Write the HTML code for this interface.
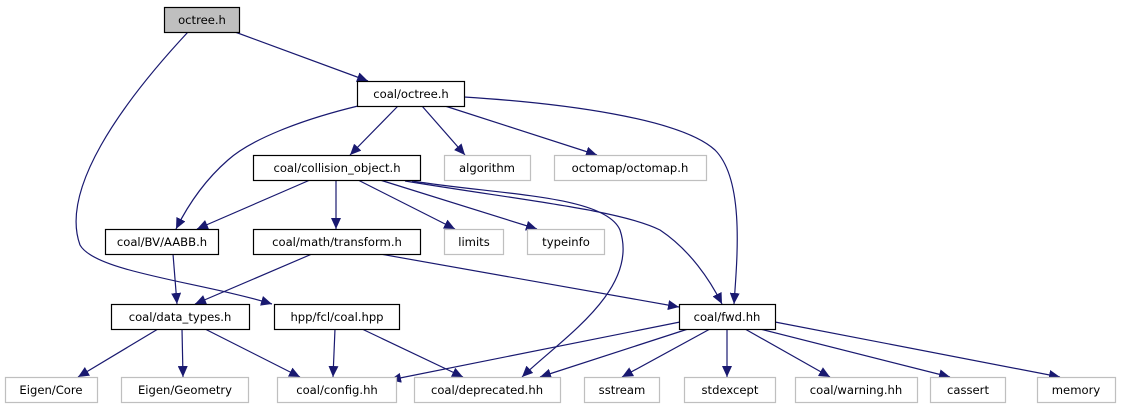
<!DOCTYPE html>
<html><head><meta charset="utf-8"><style>
body{margin:0;background:#fff}
text{font-family:"DejaVu Sans","Liberation Sans",sans-serif;font-size:11.6px;fill:#000}
</style></head><body>
<svg width="1121" height="411" viewBox="0 0 1121 411" xmlns="http://www.w3.org/2000/svg">
<defs><marker id="a" markerUnits="userSpaceOnUse" markerWidth="12" markerHeight="10" refX="11" refY="5" orient="auto"><path d="M0,0 L11,5 L0,10 Z" fill="#191970"/></marker></defs>
<g fill="none" stroke="#191970" stroke-width="1.2" marker-end="url(#a)">
<path d="M235,32 L368,81"/>
<path d="M188,32 C120,105 60,190 80,245 C95,272 200,282 272,304"/>
<path d="M398,106 L350,155"/>
<path d="M422,106 L465,155"/>
<path d="M445,106 L597,155"/>
<path d="M358,106 C300,120 250,140 228,160 C205,180 188,205 176,229"/>
<path d="M464,97 C560,103 680,118 715,150 C745,180 737,260 734,304"/>
<path d="M310,180 L197,229"/>
<path d="M336,180 L336,229"/>
<path d="M358,180 L455,229"/>
<path d="M380,180 L537,229"/>
<path d="M405,181 C520,200 620,210 660,230 C690,250 710,280 722,304"/>
<path d="M412,181 C500,195 605,195 620,230 C640,290 560,340 522,377"/>
<path d="M380,254 L679,307"/>
<path d="M312,254 L195,304"/>
<path d="M173,254 L177,304"/>
<path d="M158,329 L78,377"/>
<path d="M182,329 L183,377"/>
<path d="M205,329 L300,377"/>
<path d="M335,329 L333,377"/>
<path d="M362,329 L463,377"/>
<path d="M680,322 L390,380"/>
<path d="M688,329 L540,377"/>
<path d="M710,329 L622,377"/>
<path d="M727,329 L727,377"/>
<path d="M745,329 L830,377"/>
<path d="M760,329 L950,377"/>
<path d="M775,322 L1060,377"/>
</g>
<g stroke-width="1.2">
<rect x="164.5" y="7.5" width="75" height="25" fill="#bfbfbf" stroke="#000"/>
<rect x="357.5" y="81.5" width="107" height="25" fill="#fff" stroke="#000"/>
<rect x="253.5" y="155.5" width="167" height="25" fill="#fff" stroke="#000"/>
<rect x="444.5" y="155.5" width="86" height="25" fill="#fff" stroke="#bfbfbf"/>
<rect x="554.5" y="155.5" width="152" height="25" fill="#fff" stroke="#bfbfbf"/>
<rect x="105.5" y="229.5" width="113" height="25" fill="#fff" stroke="#000"/>
<rect x="253.5" y="229.5" width="167" height="25" fill="#fff" stroke="#000"/>
<rect x="444.5" y="229.5" width="59" height="25" fill="#fff" stroke="#bfbfbf"/>
<rect x="527.5" y="229.5" width="77" height="25" fill="#fff" stroke="#bfbfbf"/>
<rect x="111.5" y="304.5" width="138" height="25" fill="#fff" stroke="#000"/>
<rect x="274.5" y="304.5" width="125" height="25" fill="#fff" stroke="#000"/>
<rect x="679.5" y="304.5" width="96" height="25" fill="#fff" stroke="#000"/>
<rect x="5.5" y="377.5" width="92" height="25" fill="#fff" stroke="#bfbfbf"/>
<rect x="121.5" y="377.5" width="127" height="25" fill="#fff" stroke="#bfbfbf"/>
<rect x="277.5" y="377.5" width="119" height="25" fill="#fff" stroke="#bfbfbf"/>
<rect x="414.5" y="377.5" width="146" height="25" fill="#fff" stroke="#bfbfbf"/>
<rect x="584.5" y="377.5" width="75" height="25" fill="#fff" stroke="#bfbfbf"/>
<rect x="684.5" y="377.5" width="91" height="25" fill="#fff" stroke="#bfbfbf"/>
<rect x="795.5" y="377.5" width="122" height="25" fill="#fff" stroke="#bfbfbf"/>
<rect x="930.5" y="377.5" width="75" height="25" fill="#fff" stroke="#bfbfbf"/>
<rect x="1037.5" y="377.5" width="78" height="25" fill="#fff" stroke="#bfbfbf"/>
</g>
<g text-anchor="middle">
<text x="202" y="24">octree.h</text>
<text x="411" y="98">coal/octree.h</text>
<text x="337" y="172">coal/collision_object.h</text>
<text x="487" y="172">algorithm</text>
<text x="630" y="172">octomap/octomap.h</text>
<text x="162" y="246">coal/BV/AABB.h</text>
<text x="337" y="246">coal/math/transform.h</text>
<text x="474" y="246">limits</text>
<text x="566" y="246">typeinfo</text>
<text x="180" y="321">coal/data_types.h</text>
<text x="337" y="321">hpp/fcl/coal.hpp</text>
<text x="727" y="321">coal/fwd.hh</text>
<text x="51" y="394">Eigen/Core</text>
<text x="185" y="394">Eigen/Geometry</text>
<text x="337" y="394">coal/config.hh</text>
<text x="487" y="394">coal/deprecated.hh</text>
<text x="622" y="394">sstream</text>
<text x="730" y="394">stdexcept</text>
<text x="856" y="394">coal/warning.hh</text>
<text x="968" y="394">cassert</text>
<text x="1076" y="394">memory</text>
</g>
</svg>
</body></html>
